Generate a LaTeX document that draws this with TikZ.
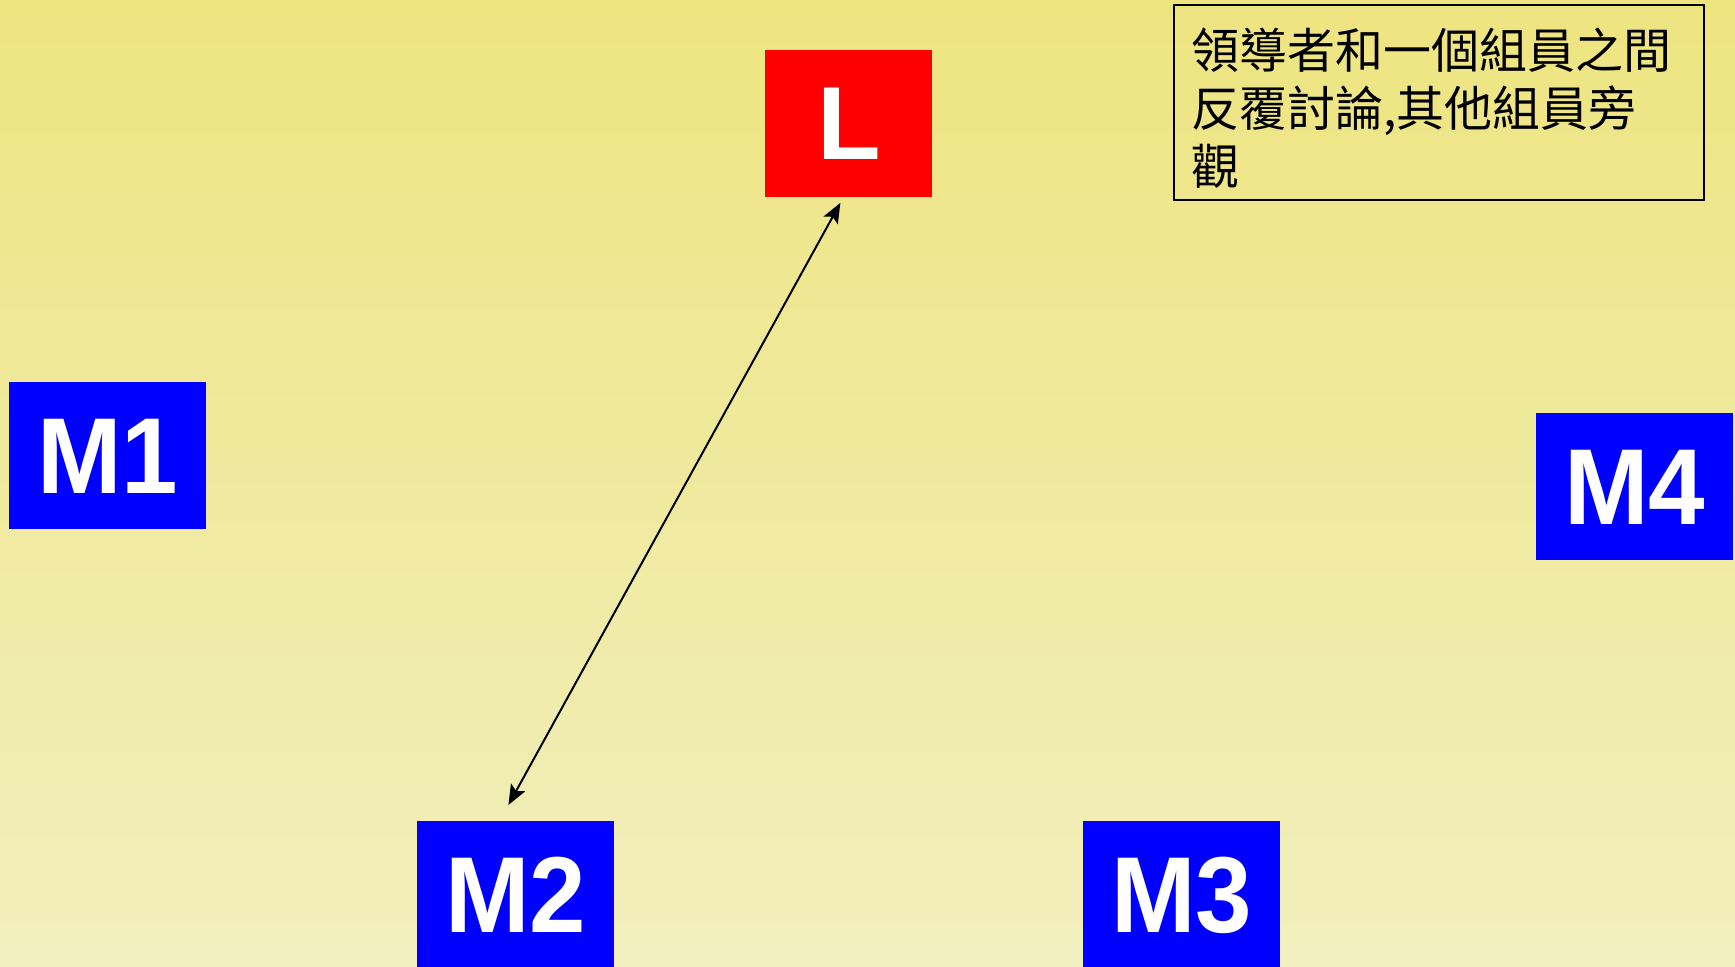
\documentclass[tikz,border=0pt]{standalone}
\usepackage{fontspec}
\setmainfont{Liberation Sans}
\newfontfamily\narrowsans[FakeStretch=0.94]{Liberation Sans}
\newfontfamily\cjk{Noto Sans CJK TC}
\usetikzlibrary{arrows.meta,calc}
\definecolor{bgtop}{RGB}{238,228,128}
\definecolor{bgbot}{RGB}{241,239,190}
\definecolor{boxblue}{RGB}{0,0,255}
\definecolor{boxred}{RGB}{255,0,0}
\tikzset{
  member/.style={fill=boxblue, text=white, inner sep=0pt, minimum width=98.5pt, minimum height=73.5pt, anchor=north west, font=\narrowsans\fontsize{54}{54}\selectfont\bfseries},
  leader/.style={fill=boxred, text=white, inner sep=0pt, minimum width=83.5pt, minimum height=73.5pt, anchor=north west, font=\fontsize{52}{52}\selectfont\bfseries},
  note/.style={draw=black, line width=1pt, anchor=north west, inner sep=0pt, minimum width=265pt, minimum height=97.5pt, text width=261pt, align=left, font=\cjk\fontsize{24}{29}\selectfont},
  tip/.style={Stealth[length=10pt,width=8pt,inset=2pt]},
  arr/.style={line width=1pt, {Stealth[length=10pt,width=8pt,inset=2pt]}-{Stealth[length=10pt,width=8pt,inset=2pt]}}
}
\begin{document}
\begin{tikzpicture}[x=0.5pt,y=-0.5pt]
\useasboundingbox (0,0) rectangle (1735,967);
\shade[top color=bgtop, bottom color=bgbot] (0,0) rectangle (1735,967);
\node[leader] (L) at (765,50) {L};
\node[member] (M1) at (9,382) {M1};
\node[member] (M4) at (1536,413) {M4};
\node[member] (M2) at (417,821) {M2};
\node[member] (M3) at (1083,821) {M3};
\node[note] (N) at (1173,4) {\hspace*{6.5pt}\parbox[t]{255pt}{\vspace*{6pt}領導者和一個組員之間\\反覆討論,其他組員旁\\觀}};
\draw[arr] ($(L.south)+(-8.5,5)$) -- ($(M2.north)+(-7.5,-16)$);
\end{tikzpicture}
\end{document}
